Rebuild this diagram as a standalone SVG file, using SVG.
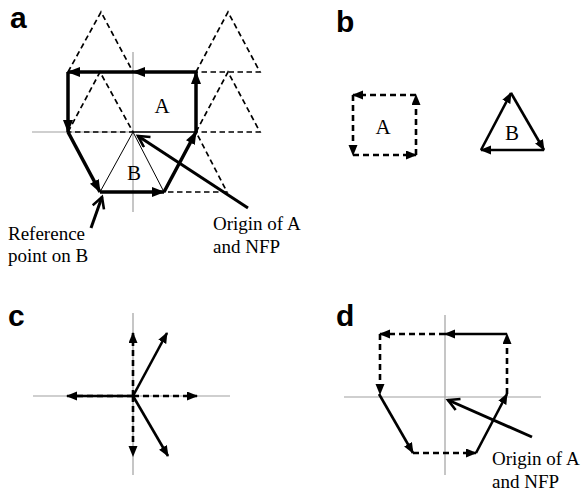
<svg xmlns="http://www.w3.org/2000/svg" width="582" height="492" viewBox="0 0 582 492">
<style>
.ax{stroke:#a0a0a0;stroke-width:1.2;fill:none}
.thick{stroke:#000;stroke-width:3.5;fill:none}
.solid{stroke:#000;stroke-width:2.6;fill:none}
.dash{stroke:#000;stroke-width:2.6;fill:none;stroke-dasharray:6,4}
.tdash{stroke:#000;stroke-width:1.7;fill:none;stroke-dasharray:5.5,3.5}
.thin{stroke:#000;stroke-width:1;fill:none}
.ann{stroke:#000;stroke-width:3;fill:none}
.lbl{font-family:'Liberation Sans',Arial,sans-serif;font-weight:bold;font-size:30px;fill:#000}
.t{font-family:'Liberation Serif','DejaVu Serif',serif;font-size:19px;fill:#000}
.L{font-family:'Liberation Serif','DejaVu Serif',serif;font-size:21px;fill:#000;text-anchor:middle}
</style>
<defs>
<marker id="ah" markerUnits="userSpaceOnUse" markerWidth="14" markerHeight="12" refX="12" refY="5" orient="auto" viewBox="0 0 14 12">
<path d="M0,0 L13,5 L0,10 z" fill="#000"/>
</marker>
<marker id="ahs" markerUnits="userSpaceOnUse" markerWidth="12" markerHeight="10" refX="10" refY="4.5" orient="auto" viewBox="0 0 12 10">
<path d="M0,0 L11,4.5 L0,9 z" fill="#000"/>
</marker>
<marker id="op" markerUnits="userSpaceOnUse" markerWidth="16" markerHeight="16" refX="12" refY="7" orient="auto" viewBox="0 0 16 16">
<path d="M1,1 L12,7 L1,13" fill="none" stroke="#000" stroke-width="2.6"/>
</marker>
</defs>

<!-- Panel labels -->
<text class="lbl" x="10" y="28">a</text>
<text class="lbl" x="336" y="32">b</text>
<text class="lbl" x="8" y="326">c</text>
<text class="lbl" x="336" y="326">d</text>

<!-- Panel a -->
<g id="panel-a-axes">
<line class="ax" x1="133" y1="52" x2="133" y2="212"/>
<line class="ax" x1="32" y1="132" x2="196" y2="132"/>
</g>
<g id="panel-a-dashed-triangles">
<polygon class="tdash" points="68,72 101,12 133,72"/>
<polygon class="tdash" points="196,72 228,12 260,72"/>
<polygon class="tdash" points="68,132 100,72 133,132"/>
<polygon class="tdash" points="196,132 228,72 260,132"/>
<polygon class="tdash" points="196,132 164,192 227,192"/>
</g>
<g id="node-A">
<line x1="133" y1="132" x2="196" y2="132" stroke="#000" stroke-width="1.6"/>
<text class="L" x="162" y="113" font-family="Liberation Serif, serif">A</text>
</g>
<g id="node-B">
<polyline class="thin" points="100,192 133,132 164,192"/>
<text class="L" x="134" y="180" font-family="Liberation Serif, serif">B</text>
</g>
<g id="panel-a-nfp">
<line class="thick" x1="196" y1="72" x2="133" y2="72" marker-end="url(#ah)"/>
<line class="thick" x1="133" y1="72" x2="68" y2="72" marker-end="url(#ah)"/>
<line class="thick" x1="68" y1="72" x2="68" y2="132" marker-end="url(#ah)"/>
<line class="thick" x1="68" y1="132" x2="100" y2="192" marker-end="url(#ah)"/>
<line class="thick" x1="100" y1="192" x2="164" y2="192" marker-end="url(#ah)"/>
<line class="thick" x1="164" y1="192" x2="196" y2="132" marker-end="url(#ah)"/>
<line class="thick" x1="196" y1="132" x2="196" y2="72" marker-end="url(#ah)"/>
</g>
<g id="panel-a-annotations">
<line class="ann" x1="248" y1="208" x2="138" y2="136" marker-end="url(#op)"/>
<line class="ann" x1="91" y1="228" x2="102" y2="197" marker-end="url(#op)"/>
<text class="t" x="8" y="240" font-family="Liberation Serif, serif">Reference</text>
<text class="t" x="8" y="262" font-family="Liberation Serif, serif">point on B</text>
<text class="t" x="213" y="230" font-family="Liberation Serif, serif">Origin of A</text>
<text class="t" x="213" y="253" font-family="Liberation Serif, serif">and NFP</text>
</g>

<!-- Panel b -->
<g id="panel-b-A">
<line class="dash" x1="416" y1="155" x2="416" y2="95" marker-end="url(#ahs)"/>
<line class="dash" x1="416" y1="95" x2="353" y2="95" marker-end="url(#ahs)"/>
<line class="dash" x1="353" y1="95" x2="353" y2="155" marker-end="url(#ahs)"/>
<line class="dash" x1="353" y1="155" x2="416" y2="155" marker-end="url(#ahs)"/>
<text class="L" x="383" y="134" font-family="Liberation Serif, serif">A</text>
</g>
<g id="panel-b-B">
<line class="solid" x1="481" y1="150" x2="511" y2="93" marker-end="url(#ahs)"/>
<line class="solid" x1="511" y1="93" x2="544" y2="150" marker-end="url(#ahs)"/>
<line class="solid" x1="544" y1="150" x2="481" y2="150" marker-end="url(#ahs)"/>
<text class="L" x="512" y="140" font-family="Liberation Serif, serif">B</text>
</g>

<!-- Panel c -->
<g id="panel-c-axes">
<line class="ax" x1="33" y1="396" x2="230" y2="396"/>
<line class="ax" x1="133" y1="313" x2="133" y2="475"/>
</g>
<g id="panel-c-vectors">
<line class="solid" x1="133" y1="396" x2="67" y2="396" marker-end="url(#ahs)"/>
<line class="dash" x1="133" y1="396" x2="72" y2="396"/>
<line class="dash" x1="133" y1="396" x2="133" y2="333" marker-end="url(#ahs)"/>
<line class="dash" x1="133" y1="396" x2="133" y2="456" marker-end="url(#ahs)"/>
<line class="dash" x1="133" y1="396" x2="197" y2="396" marker-end="url(#ahs)"/>
<line class="solid" x1="133" y1="396" x2="167" y2="333" marker-end="url(#ahs)"/>
<line class="solid" x1="133" y1="396" x2="168" y2="456" marker-end="url(#ahs)"/>
</g>

<!-- Panel d -->
<g id="panel-d-axes">
<line class="ax" x1="344" y1="397" x2="541" y2="397"/>
<line class="ax" x1="445" y1="315" x2="445" y2="475"/>
</g>
<g id="panel-d-nfp">
<line class="solid" x1="507" y1="334" x2="445" y2="334" marker-end="url(#ahs)"/>
<line class="dash" x1="445" y1="334" x2="380" y2="334" marker-end="url(#ahs)"/>
<line class="dash" x1="380" y1="334" x2="380" y2="394" marker-end="url(#ahs)"/>
<line class="solid" x1="379" y1="394" x2="413" y2="453" marker-end="url(#ahs)"/>
<line class="dash" x1="413" y1="453" x2="476" y2="453" marker-end="url(#ahs)"/>
<line class="solid" x1="476" y1="453" x2="507" y2="394" marker-end="url(#ahs)"/>
<line class="dash" x1="507" y1="394" x2="507" y2="334" marker-end="url(#ahs)"/>
</g>
<g id="panel-d-annotation">
<line class="ann" x1="532" y1="437" x2="448" y2="400" marker-end="url(#op)"/>
<text class="t" x="492" y="465" font-family="Liberation Serif, serif">Origin of A</text>
<text class="t" x="492" y="488" font-family="Liberation Serif, serif">and NFP</text>
</g>
</svg>
